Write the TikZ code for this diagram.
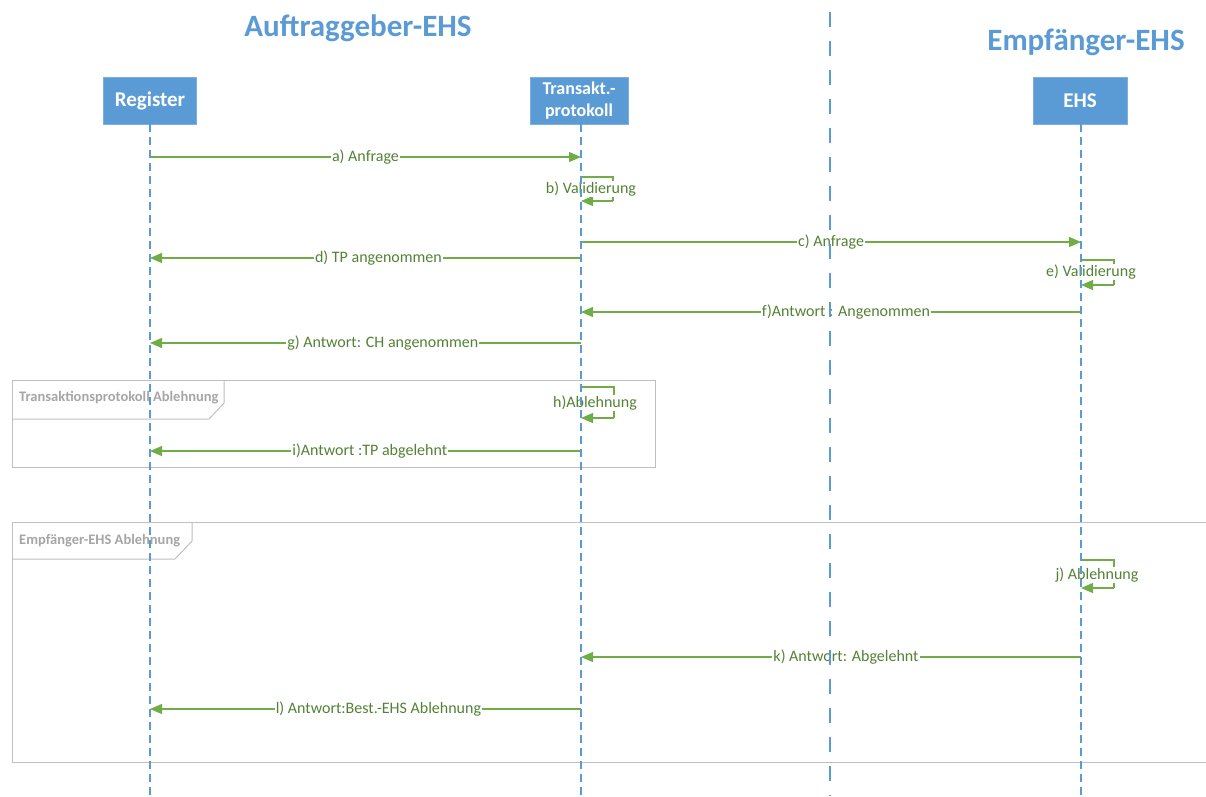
\documentclass[tikz,border=0pt]{standalone}
\usepackage{fontspec}
\setmainfont{Carlito}
\usetikzlibrary{arrows.meta}
\definecolor{boxblue}{HTML}{5B9BD5}
\definecolor{msggreen}{HTML}{70AD47}
\definecolor{txtgreen}{HTML}{548235}
\definecolor{framegray}{HTML}{BFBFBF}
\definecolor{tabgray}{HTML}{A6A6A6}
\tikzset{
  actor/.style={fill=boxblue, draw=boxblue!80!white, text=white, font=\bfseries\fontsize{21}{24}\selectfont, minimum height=47pt, align=center, inner sep=0pt},
  lifeline/.style={boxblue, line width=2pt, dash pattern=on 8pt off 5pt},
  divider/.style={boxblue, line width=2.5pt, dash pattern=on 15pt off 14pt},
  msg/.style={msggreen, line width=1.2pt, -{Triangle[length=12pt,width=10pt]}},
  loopline/.style={msggreen, line width=1.2pt},
  mlabel/.style={fill=white, text=txtgreen, font=\fontsize{16}{18}\selectfont, inner sep=1pt},
  frameline/.style={framegray, line width=1pt},
  tablabel/.style={text=tabgray, font=\bfseries\fontsize{14.5}{16}\selectfont, anchor=west, inner sep=0pt},
  title/.style={text=boxblue, font=\bfseries\fontsize{31}{34}\selectfont}
}
\begin{document}
\begin{tikzpicture}[x=1pt,y=-1pt]
\useasboundingbox (0,0) rectangle (1206,796);
\fill[white] (0,0) rectangle (1206,796);

% titles
\node[title] (t1) at (358,28) {Auftraggeber-EHS};
\node[title] (t2) at (1086,42) {Empfänger-EHS};

% actor boxes
\node[actor, minimum width=93pt] (reg) at (150,100.5) {Register};
\node[actor, minimum width=98pt, font=\bfseries\fontsize{18}{22}\selectfont] (tp) at (579,100.5) {Transakt.-\\protokoll};
\node[actor, minimum width=94pt] (ehs) at (1080,100.5) {EHS};

% frames
\draw[frameline] (12,380) rectangle (655,467);
\draw[frameline] (12,419) -- (209,419) -- (224,403) -- (224,380);
\node[tablabel] (f1) at (19,398) {Transaktionsprotokoll Ablehnung};
\draw[frameline] (1210,522) -- (12,522) -- (12,762) -- (1210,762);
\draw[frameline] (12,559) -- (175,559) -- (192,541) -- (192,522);
\node[tablabel] (f2) at (19,541) {Empfänger-EHS Ablehnung};

% lifeline coordinates
\foreach \n/\x in {r/150,t/581,e/1081}{
  \foreach \y in {157,177,201,242,258,260,285,312,343,387,418,451,560,588,657,709}{
    \coordinate (\n\y) at (\x,\y);
  }
}

% messages
\draw[msg] (r157) -- node[mlabel,pos=0.50]{a) Anfrage} (t157);
\draw[loopline] (t177) -- (613,177) -- (613,201);
\draw[msg] (613,201) -- (t201);
\node[mlabel] (lb) at (591,189) {b) Validierung};
\draw[msg] (t242) -- node[mlabel,pos=0.50]{c) Anfrage} (e242);
\draw[msg] (t258) -- node[mlabel,pos=0.47]{d) TP angenommen} (r258);
\draw[loopline] (e260) -- (1114,260) -- (1114,285);
\draw[msg] (1114,285) -- (e285);
\node[mlabel] (le) at (1091,272) {e) Validierung};
\draw[msg] (e312) -- node[mlabel,pos=0.47]{f)Antwort : Angenommen} (t312);
\draw[msg] (t343) -- node[mlabel,pos=0.46]{g) Antwort: CH angenommen} (r343);
\draw[loopline] (t387) -- (614,387) -- (614,418);
\draw[msg] (614,418) -- (t418);
\node[mlabel] (lh) at (595,403) {h)Ablehnung};
\draw[msg] (t451) -- node[mlabel,pos=0.49]{i)Antwort :TP abgelehnt} (r451);
\draw[loopline] (e560) -- (1114,560) -- (1114,588);
\draw[msg] (1114,588) -- (e588);
\node[mlabel] (lj) at (1097,575) {j) Ablehnung};
\draw[msg] (e657) -- node[mlabel,pos=0.47]{k) Antwort: Abgelehnt} (t657);
\draw[msg] (t709) -- node[mlabel,pos=0.47]{l) Antwort:Best.-EHS Ablehnung} (r709);

% lifelines on top
\coordinate (rend) at (150,796);
\coordinate (tend) at (581,796);
\coordinate (eend) at (1081,796);
\draw[lifeline] (reg.south) -- (rend);
\draw[lifeline] (581,124) -- (tend);
\draw[lifeline] (1081,124) -- (eend);

% divider
\coordinate (dtop) at (830,12);
\coordinate (dbot) at (830,796);
\draw[divider] (dtop) -- (dbot);
\end{tikzpicture}
\end{document}
